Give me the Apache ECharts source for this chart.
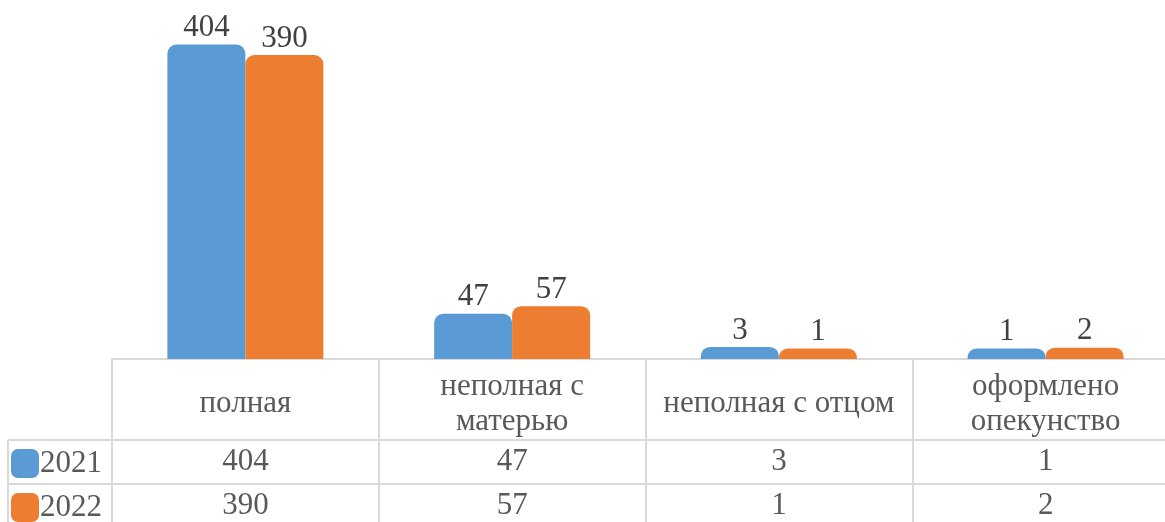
<!DOCTYPE html>
<html lang="ru">
  <head>
    <meta charset="UTF-8" />
    <title>Семьи</title>
    <script src="https://cdn.jsdelivr.net/npm/echarts@6.0.0/dist/echarts.min.js"></script>
    <style>
      html, body { margin: 0; padding: 0; background: #fff; }
      #chart { width: 1165px; height: 522px; }
    </style>
  </head>
  <body>
    <div id="chart"></div>
  </body>
</html>
<script>
  const categories = ["полная", "неполная с матерью", "неполная с отцом", "оформлено опекунство"];
  const categoryLabels = ["полная", "неполная с\nматерью", "неполная с отцом", "оформлено\nопекунство"];
  const seriesNames = ["2021", "2022"];
  const values2021 = [404, 47, 3, 1];
  const values2022 = [390, 57, 1, 2];

  const font = "'Times New Roman', 'Liberation Serif', serif";
  const lineColor = "#d9d9d9";
  const textColor = "#595959";

  const chart = echarts.init(document.getElementById("chart"));

  // строки таблицы данных под осью
  const rowAxis = (vals, offset) => ({
    type: "category",
    data: categories,
    gridIndex: 0,
    position: "bottom",
    offset: offset,
    axisLine: { show: true, onZero: false, lineStyle: { color: lineColor, width: 2 } },
    axisTick: { show: false },
    axisLabel: {
      interval: 0,
      margin: 22,
      verticalAlign: "middle",
      fontFamily: font,
      fontSize: 31,
      color: textColor,
      formatter: (v, i) => String(vals[i]),
    },
  });

  const barLabel = {
    show: true,
    position: "top",
    distance: 1,
    fontFamily: font,
    fontSize: 31,
    color: "#404040",
  };

  const option = {
    animation: false,
    grid: { left: 112, width: 1067, top: 0, bottom: 163, outerBoundsMode: "none" },
    legend: {
      orient: "vertical",
      left: 11,
      top: 448,
      height: 120,
      padding: 0,
      itemWidth: 28,
      itemHeight: 29,
      itemGap: 13,
      icon: "roundRect",
      textStyle: { fontFamily: font, fontSize: 31, lineHeight: 29, color: textColor, padding: [0, 0, 0, -4] },
      data: seriesNames,
    },
    xAxis: [
      {
        type: "category",
        data: categories,
        gridIndex: 0,
        position: "bottom",
        axisLine: { show: true, onZero: false, lineStyle: { color: lineColor, width: 2 } },
        axisTick: { show: true, length: 180, lineStyle: { color: lineColor, width: 2 } },
        axisLabel: {
          interval: 0,
          margin: 45,
          verticalAlign: "middle",
          fontFamily: font,
          fontSize: 31,
          lineHeight: 35,
          color: textColor,
          formatter: (v, i) => categoryLabels[i],
        },
      },
      rowAxis(values2021, 81),
      rowAxis(values2022, 125),
    ],
    yAxis: {
      type: "value",
      min: -13,
      max: 463,
      startValue: -13,
      show: false,
      splitLine: { show: false },
    },
    series: [
      {
        name: seriesNames[0],
        type: "bar",
        data: values2021,
        barWidth: 78,
        barGap: "0%",
        itemStyle: { color: "#5B9BD5", borderRadius: [9, 9, 0, 0] },
        label: barLabel,
      },
      {
        name: seriesNames[1],
        type: "bar",
        data: values2022,
        barWidth: 78,
        barGap: "0%",
        itemStyle: { color: "#ED7D31", borderRadius: [9, 9, 0, 0] },
        label: barLabel,
      },
    ],
    graphic: [
      { type: "line", shape: { x1: 8, y1: 440, x2: 112, y2: 440 }, style: { stroke: lineColor, lineWidth: 2 } },
      { type: "line", shape: { x1: 8, y1: 484, x2: 112, y2: 484 }, style: { stroke: lineColor, lineWidth: 2 } },
      { type: "line", shape: { x1: 8, y1: 440, x2: 8, y2: 522 }, style: { stroke: lineColor, lineWidth: 2 } },
    ],
  };
  chart.setOption(option);
</script>
